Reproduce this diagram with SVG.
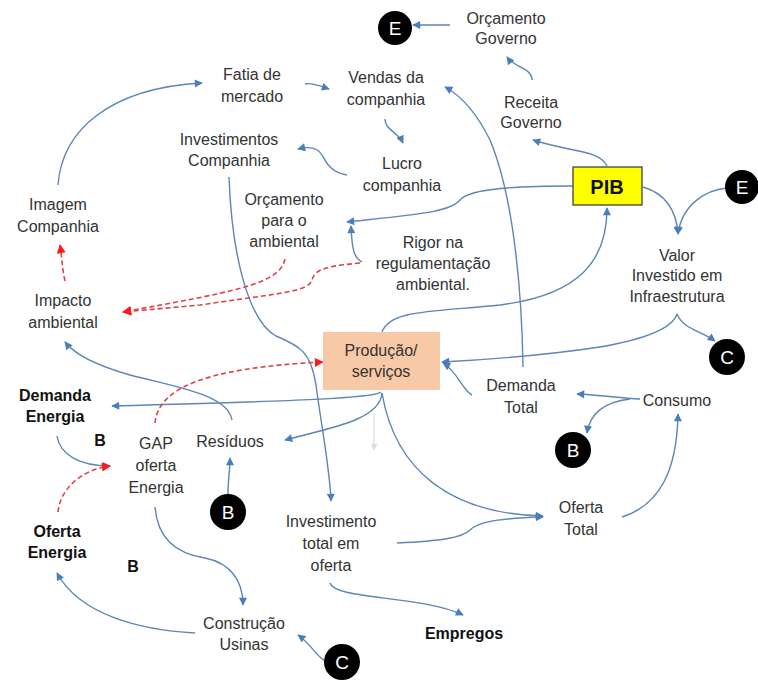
<svg xmlns="http://www.w3.org/2000/svg" width="758" height="682" viewBox="0 0 758 682">
<defs>
<marker id="ab" viewBox="0 0 10 10" refX="9" refY="5" markerWidth="9" markerHeight="8" markerUnits="userSpaceOnUse" orient="auto"><path d="M0,0 L10,5 L0,10 z" fill="#4a7ebb"/></marker>
<marker id="ar" viewBox="0 0 10 10" refX="9" refY="5" markerWidth="10" markerHeight="9" markerUnits="userSpaceOnUse" orient="auto"><path d="M0,0 L10,5 L0,10 z" fill="#ff1a1a"/></marker>
<marker id="ag" viewBox="0 0 10 10" refX="9" refY="5" markerWidth="8" markerHeight="7" markerUnits="userSpaceOnUse" orient="auto"><path d="M0,0 L10,5 L0,10 z" fill="#dcdcdc"/></marker>
<style>
text{font-family:"Liberation Sans",Arial,sans-serif;font-size:16px;fill:#333;text-anchor:middle}
.b{font-weight:bold;fill:#111}
.c{fill:#fff;font-size:19px}
.l{fill:none;stroke:#5b86b5;stroke-width:1.4;marker-end:url(#ab)}
.n{fill:none;stroke:#5b86b5;stroke-width:1.4}
.r{fill:none;stroke:#e0404a;stroke-width:1.6;stroke-dasharray:5,3;marker-end:url(#ar)}
</style>
</defs>
<rect width="758" height="682" fill="#fff"/>
<g id="connectors">
<path class="l" d="M58,185 C62,130 110,88 202,83"/>
<path class="l" d="M305,84 C312,82 320,86 329,89"/>
<path class="l" d="M385,119 C385,130 398,132 403,143"/>
<path class="l" d="M347,175 C330,172 326,162 322,155 C318,148 310,146 298,149"/>
<path class="l" d="M229,177 C232,260 250,322 276,336 C300,346 311,352 316,385 C322,430 330,470 331,501"/>
<path class="l" d="M607,166 C600,150 570,152 533,140"/>
<path class="l" d="M573,186 C520,186 470,188 460,200 C450,212 420,214 347,222"/>
<path class="l" d="M362,262 C354,258 352,250 351,226"/>
<path class="l" d="M450,25 L413,25"/>
<path class="l" d="M532,80 C532,68 515,68 507,57"/>
<path class="l" d="M382,332 C390,310 430,312 500,305 C580,295 607,260 607,208"/>
<path class="l" d="M523,367 C522,300 515,200 490,140 C475,110 460,95 445,87"/>
<path class="l" d="M643,187 C660,192 676,205 678,234"/>
<path class="l" d="M727,188 C705,190 682,205 678,234"/>
<path class="n" d="M677,314 C672,330 640,340 600,347"/>
<path class="l" d="M677,314 C684,330 700,330 715,341"/>
<path class="l" d="M600,347 C540,356 480,360 442,362"/>
<path class="l" d="M472,395 C462,390 458,372 443,363"/>
<path class="l" d="M381,392 C375,398 300,401 112,406"/>
<path class="l" d="M382,393 C380,420 330,428 285,440"/>
<path class="l" d="M382,393 C395,470 450,514 543,516"/>
<path class="l" d="M397,543 C440,541 462,538 470,530 C480,520 510,518 543,517"/>
<path class="l" d="M622,517 C660,505 677,470 678,414"/>
<path class="l" d="M330,583 C335,600 420,595 463,615"/>
<path class="l" d="M232,420 C228,395 180,388 130,375 C95,365 75,355 65,342"/>
<path class="l" d="M57,436 C60,455 80,466 110,466"/>
<path class="l" d="M155,507 C158,545 185,555 205,558 C230,563 243,580 243,605"/>
<path class="l" d="M195,633 C140,630 80,615 57,573"/>
<path class="l" d="M325,661 C315,655 312,645 298,635"/>
<path class="l" d="M228,494 C228,480 230,470 230,458"/>
<path class="l" d="M640,399 C620,398 600,395 577,394"/>
<path class="l" d="M630,399 C605,402 590,412 587,433"/>
<path d="M374,413 L374,450" fill="none" stroke="#e2e2e2" stroke-width="1.4" marker-end="url(#ag)"/>
<path class="r" d="M285,259 C280,285 230,292 123,312"/>
<path class="r" d="M360,263 C330,266 315,268 312,280 C308,292 280,293 200,305 L123,312"/>
<path class="r" d="M65,281 C62,268 62,258 60,245"/>
<path class="r" d="M155,423 C158,390 200,368 323,362"/>
<path class="r" d="M58,512 C60,490 80,470 110,466"/>
</g>
<g id="fatia"><text x="252" y="80">Fatia de</text><text x="252" y="102">mercado</text></g>
<g id="vendas"><text x="386" y="83">Vendas da</text><text x="386" y="105">companhia</text></g>
<g id="orcamentoGoverno"><text x="506" y="24">Orçamento</text><text x="506" y="44">Governo</text></g>
<g id="E1"><circle cx="395" cy="28" r="17" fill="#000"/><text class="c" x="395" y="35">E</text></g>
<g id="receita"><text x="531" y="108">Receita</text><text x="531" y="128">Governo</text></g>
<g id="lucro"><text x="402" y="169">Lucro</text><text x="402" y="191">companhia</text></g>
<g id="investimentos"><text x="229" y="145">Investimentos</text><text x="229" y="166">Companhia</text></g>
<g id="orcamentoAmbiental"><text x="284" y="205">Orçamento</text><text x="284" y="226">para o</text><text x="284" y="247">ambiental</text></g>
<g id="rigor"><text x="433" y="248">Rigor na</text><text x="433" y="269">regulamentação</text><text x="433" y="290">ambiental.</text></g>
<g id="pib"><rect x="573" y="167" width="69" height="38" fill="#ffff00" stroke="#333" stroke-width="1.2"/><text class="b" x="607" y="194" style="font-size:20px">PIB</text></g>
<g id="E2"><circle cx="742" cy="187" r="17" fill="#000"/><text class="c" x="742" y="194">E</text></g>
<g id="valor"><text x="677" y="261">Valor</text><text x="677" y="281">Investido em</text><text x="677" y="302">Infraestrutura</text></g>
<g id="C1"><circle cx="727" cy="357" r="18" fill="#000"/><text class="c" x="727" y="364">C</text></g>
<g id="producao"><rect x="323" y="332" width="117" height="58" fill="#f8c9a6"/><text x="381" y="356">Produção/</text><text x="381" y="377">serviços</text></g>
<g id="impacto"><text x="63" y="306">Impacto</text><text x="63" y="328">ambiental</text></g>
<g id="imagem"><text x="58" y="210">Imagem</text><text x="58" y="232">Companhia</text></g>
<g id="demandaEnergia"><text class="b" x="55" y="401">Demanda</text><text class="b" x="55" y="422">Energia</text></g>
<g id="labelB1"><text class="b" x="100" y="446">B</text></g>
<g id="gap"><text x="156" y="449">GAP</text><text x="156" y="471">oferta</text><text x="156" y="493">Energia</text></g>
<g id="residuos"><text x="230" y="447">Resíduos</text></g>
<g id="B1"><circle cx="228" cy="512" r="18" fill="#000"/><text class="c" x="228" y="519">B</text></g>
<g id="ofertaEnergia"><text class="b" x="57" y="537">Oferta</text><text class="b" x="57" y="558">Energia</text></g>
<g id="labelB2"><text class="b" x="133" y="572">B</text></g>
<g id="construcao"><text x="244" y="629">Construção</text><text x="244" y="650">Usinas</text></g>
<g id="C2"><circle cx="342" cy="662" r="18" fill="#000"/><text class="c" x="342" y="669">C</text></g>
<g id="investimentoTotal"><text x="331" y="527">Investimento</text><text x="331" y="549">total em</text><text x="331" y="571">oferta</text></g>
<g id="empregos"><text class="b" x="464" y="639">Empregos</text></g>
<g id="ofertaTotal"><text x="581" y="513">Oferta</text><text x="581" y="535">Total</text></g>
<g id="demandaTotal"><text x="521" y="391">Demanda</text><text x="521" y="413">Total</text></g>
<g id="consumo"><text x="677" y="406">Consumo</text></g>
<g id="B2"><circle cx="573" cy="450" r="18" fill="#000"/><text class="c" x="573" y="457">B</text></g>
</svg>
